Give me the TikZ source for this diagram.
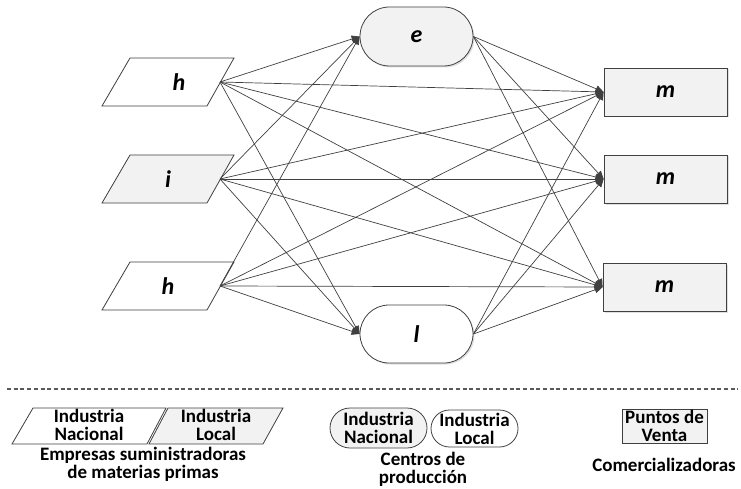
\documentclass[tikz,border=0pt]{standalone}
\usepackage{fontspec}
\setmainfont{Carlito}
\usetikzlibrary{arrows.meta,shapes.misc,shadows}
\definecolor{lgray}{HTML}{F2F2F2}
\definecolor{ink}{HTML}{404040}
\definecolor{dashc}{HTML}{595959}
\begin{document}
\begin{tikzpicture}[x=1pt,y=-1pt,
  shp/.style={draw=ink, line width=0.8pt},
  lbl/.style={font=\bfseries\itshape\fontsize{24}{24}\selectfont, text=black, inner sep=0pt},
  leg/.style={font=\bfseries\fontsize{19}{18}\selectfont, align=center, inner sep=0pt},
  shd/.style={drop shadow={opacity=0.25, shadow xshift=1.5pt, shadow yshift=-1.5pt}},
  stadium/.style={shp, rounded rectangle, minimum width=113pt, minimum height=59pt, inner sep=0pt, shd},
  outlet/.style={shp, fill=lgray, minimum width=123pt, minimum height=48pt, inner sep=0pt, shd},
  conn/.style={draw=ink, line width=0.7pt},
  arr/.style={conn, -{Triangle[length=8pt,width=7pt]}}
]
\useasboundingbox (0,0) rectangle (741,489);

% suppliers (parallelograms)
\draw[shp, fill=white] (130,58) -- (234,58) -- (207,106) -- (102,106) -- cycle;
\node[lbl] (h1) at (179,82) {h};
\coordinate (hv1) at (220,82);
\draw[shp, fill=lgray] (130,155) -- (234,155) -- (207,203) -- (102,203) -- cycle;
\node[lbl] (i1) at (168,179) {i};
\coordinate (iv) at (220,179);
\draw[shp, fill=white] (130,262) -- (234,262) -- (207,310) -- (102,310) -- cycle;
\node[lbl] (h2) at (168,286) {h};
\coordinate (hv2) at (220,286);

% production centres
\node[stadium, fill=lgray] (e) at (416.5,36.5) {};
\node[lbl] at (e.center) {e};
\node[stadium, fill=white, minimum height=58pt] (l) at (416.5,334) {};
\node[lbl] at (l.center) {l};

% outlets
\node[outlet] (m1) at (665.5,92) {};
\node[lbl] at (m1.center) {m};
\node[outlet] (m2) at (665.5,179) {};
\node[lbl] at (m2.center) {m};
\node[outlet] (m3) at (664.5,287) {};
\node[lbl] at (m3.center) {m};

% connectors
\foreach \s in {hv1,iv,hv2}{
  \draw[arr] (\s) -- (e.west);
  \draw[arr] (\s) -- (l.west);
  \draw[arr] (\s) -- (m1.west);
  \draw[arr] (\s) -- (m2.west);
  \draw[arr] (\s) -- (m3.west);
}
\foreach \s in {e,l}{
  \draw[arr] (\s.east) -- (m1.west);
  \draw[arr] (\s.east) -- (m2.west);
  \draw[arr] (\s.east) -- (m3.west);
}

% separator
\coordinate (dl) at (7,389);
\coordinate (dr) at (738,389);
\draw[dashc, line width=2pt, dash pattern=on 4pt off 2.7pt] (dl) -- (dr);

% legend
\draw[shp, fill=white] (33,408) -- (166,408) -- (147,444) -- (12,444) -- cycle;
\node[leg] (lg1) at (89,425) {Industria\\Nacional};
\draw[shp, fill=lgray] (168,408) -- (283,408) -- (263,444) -- (149,444) -- cycle;
\node[leg] (lg2) at (216,425) {Industria\\Local};
\node[leg] (lg3) at (143,464) {Empresas suministradoras\\de materias primas};

\node[shp, rounded rectangle, fill=lgray, minimum width=97pt, minimum height=40pt, inner sep=0pt] (lg4) at (378.5,428) {};
\node[leg] at (lg4.center) {Industria\\Nacional};
\node[shp, rounded rectangle, fill=white, minimum width=87pt, minimum height=37pt, inner sep=0pt] (lg5) at (474.5,428.5) {};
\node[leg] at (lg5.center) {Industria\\Local};
\node[leg] (lg6) at (423,469) {Centros de\\producción};

\node[shp, fill=lgray, minimum width=85pt, minimum height=34pt, inner sep=0pt] (lg7) at (664.5,426) {};
\node[leg] at (lg7.center) {Puntos de\\Venta};
\node[leg] (lg8) at (664,465) {Comercializadoras};
\end{tikzpicture}
\end{document}
